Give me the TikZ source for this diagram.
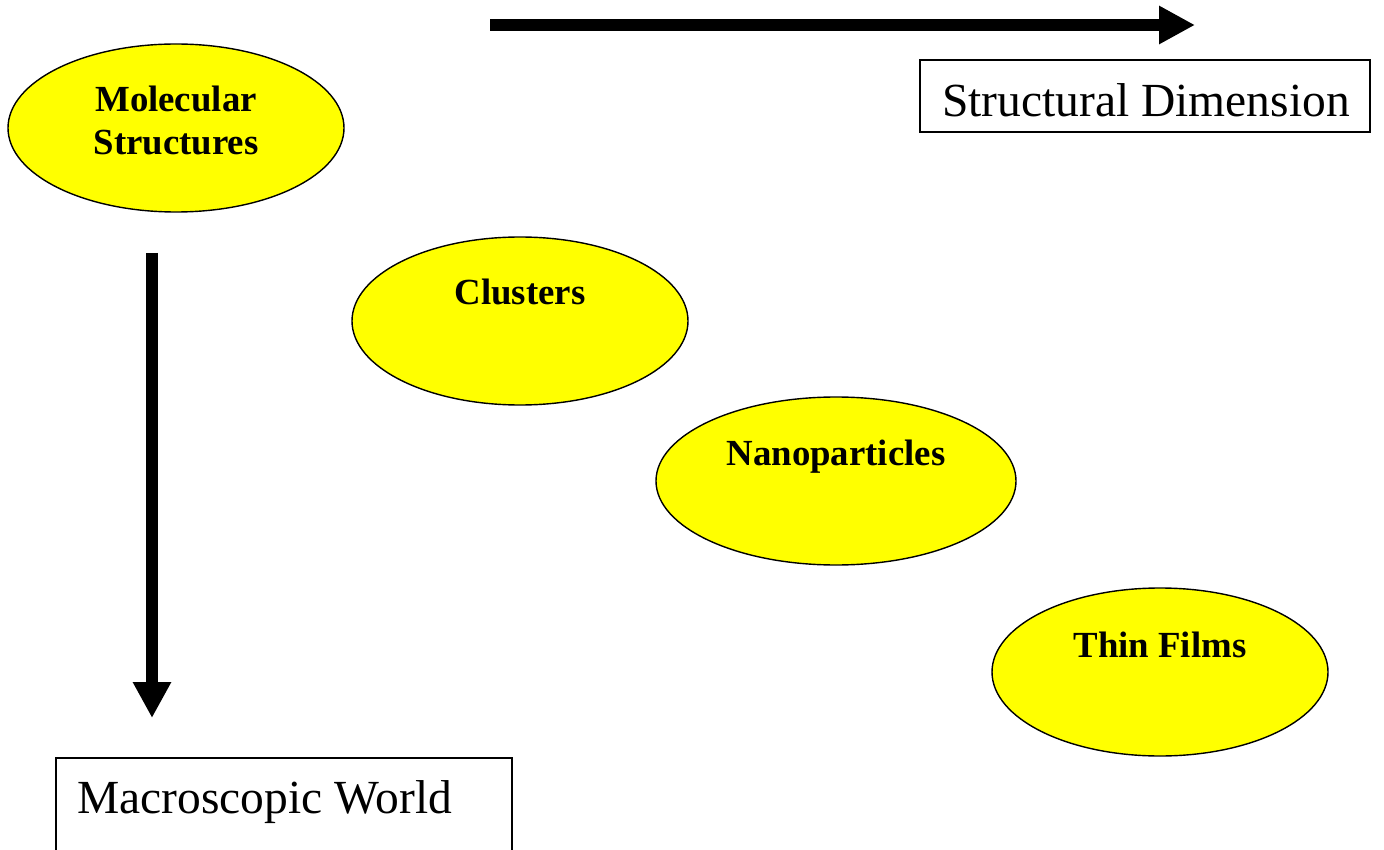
\documentclass[tikz,border=0pt]{standalone}
\usepackage{fontspec}
\setmainfont{Liberation Serif}
\usetikzlibrary{shapes.geometric,arrows.meta}
\definecolor{ovalfill}{RGB}{255,255,0}
\tikzset{
  oval/.style={ellipse, draw=black, line width=1.4pt, fill=ovalfill, inner sep=0pt, minimum height=168pt},
  ovaltext/.style={anchor=base, inner sep=0pt, font=\fontsize{36.8}{42}\selectfont\bfseries, align=center},
  bigtext/.style={inner sep=0pt, font=\fontsize{47.5}{55}\selectfont},
  framebox/.style={draw=black, line width=1.4pt},
  bigarrow/.style={line width=12pt, -{Triangle[length=36pt,width=36pt]}}
}
\begin{document}
\begin{tikzpicture}[x=1pt,y=-1pt]
\useasboundingbox (0,0) rectangle (1384,850);
% ovals
\node[oval, minimum width=336pt] (mol) at (176,128) {};
\node[oval, minimum width=336pt] (clu) at (520,321) {};
\node[oval, minimum width=360pt] (nano) at (836,481) {};
\node[oval, minimum width=336pt] (thin) at (1160,672) {};
\node[ovaltext] (moltxt1) at (176,112) {Molecular};
\node[ovaltext] (moltxt2) at (176,155) {Structures};
\node[ovaltext] (clutxt) at (520,305) {Clusters};
\node[ovaltext] (nanotxt) at (836,465) {Nanoparticles};
\node[ovaltext] (thintxt) at (1160,657) {Thin Films};
% boxes
\draw[framebox] (920,60) rectangle (1370,132);
\node[bigtext, anchor=base] (sdim) at (1146,117) {Structural Dimension};
\draw[framebox] (56,758) rectangle (512,870);
\node[bigtext, anchor=base west] (macro) at (77,813) {Macroscopic World};
% arrows
\coordinate (hstart) at (490,25);
\coordinate (hend) at (1195,25);
\coordinate (vstart) at (152,253);
\coordinate (vend) at (152,718);
\draw[bigarrow] (hstart) -- (hend);
\draw[bigarrow] (vstart) -- (vend);
\end{tikzpicture}
\end{document}
